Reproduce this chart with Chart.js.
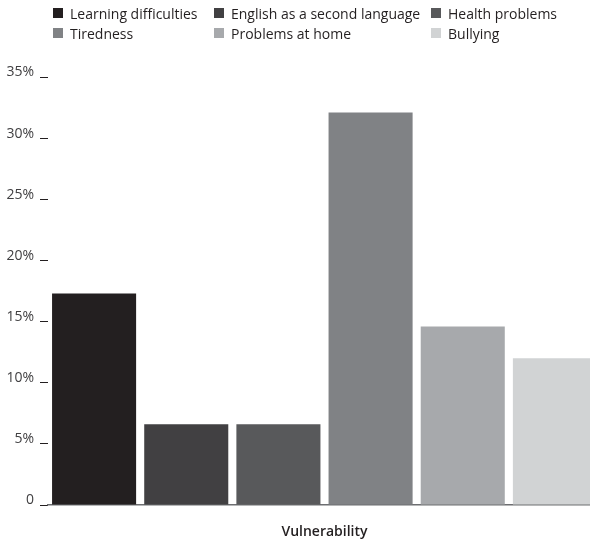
<!DOCTYPE html>
<html>
<head>
<meta charset="utf-8">
<script src="https://cdn.jsdelivr.net/npm/chart.js@4/dist/chart.umd.min.js"></script>
<style>
  html, body { margin: 0; padding: 0; background: #ffffff; }
  #wrap { position: relative; width: 590px; height: 540px; overflow: hidden; }
  #chart { position: absolute; left: 0; top: 0; }
  #legend {
    position: absolute; left: 53px; top: 3px;
    display: grid; grid-template-columns: 161px 217px 150px; grid-auto-rows: 20px;
    font-family: "Open Sans", sans-serif; font-size: 14px; color: #231f20;
  }
  .item { display: flex; align-items: center; white-space: nowrap; }
  .box { width: 10px; height: 10px; margin-right: 7px; flex: none; }
</style>
</head>
<body>
<div id="wrap">
  <canvas id="chart" width="601" height="540"></canvas>
  <div id="legend"></div>
</div>
<script>
const categories = ['Vulnerability'];
const seriesNames = ['Learning difficulties', 'English as a second language', 'Health problems', 'Tiredness', 'Problems at home', 'Bullying'];
const seriesValues = [17.3, 6.6, 6.6, 32.1, 14.6, 12.0];
const seriesColors = ['#231f20', '#414042', '#58595b', '#808285', '#a7a9ac', '#d1d3d4'];
const yTicks = [0, 5, 10, 15, 20, 25, 30, 35];

const datasets = seriesNames.map((name, i) => ({
  label: name,
  data: [seriesValues[i]],
  backgroundColor: seriesColors[i],
  borderWidth: 0,
  categoryPercentage: 1.0,
  barPercentage: 0.912
}));

const chart = new Chart(document.getElementById('chart'), {
  type: 'bar',
  data: { labels: categories, datasets },
  options: {
    responsive: false,
    animation: false,
    layout: { padding: { top: 77, left: 0, right: 0, bottom: 0 } },
    plugins: { legend: { display: false }, tooltip: { enabled: false } },
    scales: {
      x: {
        grid: { display: false, drawTicks: false, tickLength: 0 },
        border: { display: true, color: '#6d6e71', width: 1.5 },
        ticks: {
          padding: 19,
          color: '#231f20',
          font: { family: 'Open Sans', size: 14, weight: '600' }
        },
        afterFit: (scale) => { scale.height = 35; }
      },
      y: {
        min: 0,
        max: 35,
        afterBuildTicks: (scale) => { scale.ticks = yTicks.map(v => ({ value: v })); },
        grid: {
          display: true,
          drawOnChartArea: false,
          drawTicks: true,
          tickLength: 11,
          tickColor: '#231f20',
          tickWidth: 1,
          tickBorderDash: [8, 3],
          tickBorderDashOffset: 8
        },
        border: { display: false },
        ticks: {
          padding: 3,
          color: '#414042',
          font: { family: 'Open Sans', size: 14, lineHeight: 0.65 },
          callback: (v) => v === 0 ? ['0', ''] : [v + '%', '']
        },
        afterFit: (scale) => { scale.width = 48; }
      }
    }
  }
});

// Legend laid out in a three-column grid from the chart's own datasets
const legendEl = document.getElementById('legend');
chart.data.datasets.forEach((ds) => {
  const item = document.createElement('div');
  item.className = 'item';
  const box = document.createElement('span');
  box.className = 'box';
  box.style.background = ds.backgroundColor;
  const txt = document.createElement('span');
  txt.textContent = ds.label;
  item.appendChild(box);
  item.appendChild(txt);
  legendEl.appendChild(item);
});
</script>
</body>
</html>
